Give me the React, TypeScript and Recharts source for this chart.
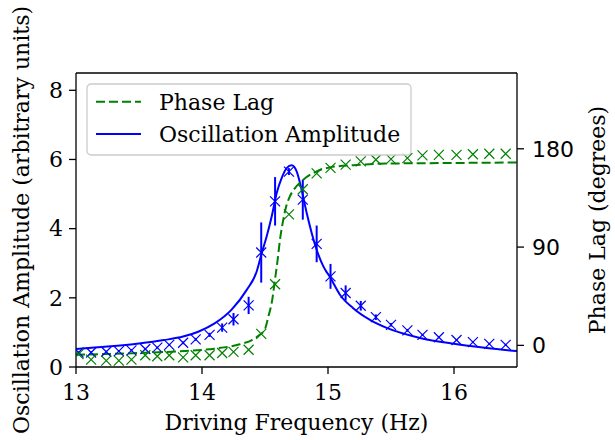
import { ComposedChart, Line, Scatter, ErrorBar, XAxis, YAxis, Legend } from 'recharts'

// measured points
const freq = [13.02, 13.12, 13.24, 13.34, 13.44, 13.55, 13.645, 13.74, 13.85, 13.95, 14.06, 14.16, 14.25, 14.37, 14.47, 14.58, 14.69, 14.8, 14.91, 15.02, 15.14, 15.26, 15.38, 15.5, 15.63, 15.75, 15.88, 16.02, 16.15, 16.28, 16.41]
const amplitude = [0.42, 0.42, 0.44, 0.46, 0.48, 0.52, 0.56, 0.64, 0.7, 0.8, 0.93, 1.14, 1.38, 1.78, 3.31, 4.79, 5.65, 4.84, 3.56, 2.62, 2.14, 1.77, 1.44, 1.22, 1.06, 0.93, 0.86, 0.78, 0.72, 0.67, 0.64]
const amplitudeErr = [0.03, 0.03, 0.03, 0.03, 0.03, 0.03, 0.03, 0.03, 0.04, 0.04, 0.06, 0.12, 0.18, 0.25, 0.87, 0.7, 0.1, 0.58, 0.53, 0.36, 0.22, 0.14, 0.08, 0.05, 0.04, 0.03, 0.03, 0.03, 0.03, 0.03, 0.03]
const phase = [-8, -13, -14, -14, -13, -9, -10, -9, -11, -9, -9, -7, -6, -4, 10.5, 56, 120, 143, 157.5, 162.5, 165.5, 168.5, 170, 170.5, 171.5, 174, 174.5, 174.5, 175, 175.5, 175.5]

// fitted curves
const ampFitFreq = [13.0, 13.25, 13.5, 13.7, 13.85, 13.97, 14.1, 14.235, 14.355, 14.434, 14.474, 14.513, 14.553, 14.593, 14.632, 14.672, 14.712, 14.752, 14.791, 14.831, 14.871, 14.91, 14.963, 15.016, 15.095, 15.2, 15.33, 15.466, 15.73, 16.0, 16.26, 16.5]
const ampFit = [0.52, 0.59, 0.68, 0.78, 0.88, 1.02, 1.26, 1.66, 2.23, 2.76, 3.29, 3.77, 4.35, 5.03, 5.46, 5.75, 5.83, 5.65, 5.12, 4.45, 3.87, 3.39, 2.91, 2.6, 2.09, 1.7, 1.37, 1.13, 0.84, 0.67, 0.55, 0.46]
const phaseFitFreq = [13.0, 13.5, 13.8, 14.1, 14.3, 14.4, 14.45, 14.5, 14.527, 14.555, 14.579, 14.6, 14.619, 14.645, 14.67, 14.7, 14.738, 14.804, 14.91, 15.016, 15.2, 15.5, 16.0, 16.5]
const phaseFit = [-8.5, -7, -5.5, -3, 1, 5, 9, 15, 26.6, 40, 60, 78, 96.8, 115, 128, 137, 144, 151.7, 159.3, 163, 165, 166.5, 167, 167.5]

const xTicks = [13, 14, 15, 16]
const ampTicks = [0, 2, 4, 6, 8]
const phaseTicks = [0, 90, 180]

const BLUE = '#0000ff'
const GREEN = '#008000'
const SERIF = 'DejaVu Serif'
const FS = 22

const ampPoints = freq.map((f, i) => ({ f, amp: amplitude[i], err: amplitudeErr[i] }))
const phasePoints = freq.map((f, i) => ({ f, phase: phase[i] }))
const ampLine = ampFitFreq.map((f, i) => ({ f, fit: ampFit[i] }))
const phaseLine = phaseFitFreq.map((f, i) => ({ f, fit: phaseFit[i] }))

const cross = (color: string) => (p: any) => {
    const r = 5
    return (
        <path
            d={`M${p.cx - r},${p.cy - r}L${p.cx + r},${p.cy + r}M${p.cx - r},${p.cy + r}L${p.cx + r},${p.cy - r}`}
            stroke={color}
            strokeWidth={1.2}
            fill="none"
        />
    )
}

// rotated axis title centred in the axis box, shifted sideways by dx
const sideTitle = (text: string, dx: number, dy = 0) => (props: any) => {
    const vb = props.viewBox
    const cx = vb.x + vb.width / 2 + dx
    const cy = vb.y + vb.height / 2 + dy
    return (
        <text x={cx} y={cy} transform={`rotate(-90 ${cx} ${cy})`} textAnchor="middle" dominantBaseline="central" fontFamily={SERIF} fontSize={FS} fill="#000">
            {text}
        </text>
    )
}

const LegendBox = () => (
    <svg width={326} height={73} style={{ display: 'block' }}>
        <rect x={1} y={1} width={324} height={71} rx={4} fill="#fff" fillOpacity={0.8} stroke="#cccccc" strokeWidth={1.3} />
        <line x1={10} x2={55} y1={18.7} y2={18.7} stroke={GREEN} strokeWidth={2} strokeDasharray="9 4" />
        <text x={73} y={18.7} dy="0.355em" fontFamily={SERIF} fontSize={FS} fill="#000">Phase Lag</text>
        <line x1={10} x2={55} y1={51} y2={51} stroke={BLUE} strokeWidth={2} />
        <text x={73} y={51} dy="0.355em" fontFamily={SERIF} fontSize={FS} fill="#000">Oscillation Amplitude</text>
    </svg>
)

const axisLine = { stroke: '#000', strokeWidth: 1.3 }
const serifTick = { fill: '#000', fontSize: FS, fontFamily: SERIF }
const labelStyle = { fontFamily: SERIF, fontSize: FS, fill: '#000' }

export default function App() {
    return (
        <div style={{ position: 'absolute', left: 0, top: 0, width: 615, height: 440, background: '#fff' }}>
            <ComposedChart width={615} height={440} margin={{ top: 72, right: 0, bottom: 0, left: 0 }}>
                <XAxis
                    dataKey="f"
                    type="number"
                    domain={[13, 16.5]}
                    ticks={xTicks}
                    height={73}
                    axisLine={axisLine}
                    tickLine={axisLine}
                    tickSize={7}
                    tickMargin={10}
                    tick={serifTick}
                    allowDataOverflow
                    label={{ value: 'Driving Frequency (Hz)', position: 'center', dy: 18.5, style: labelStyle }}
                />
                <XAxis xAxisId="top" orientation="top" dataKey="f" type="number" domain={[13, 16.5]} height={1} tick={false} tickLine={false} axisLine={axisLine} />
                <YAxis
                    yAxisId="left"
                    type="number"
                    domain={[0, 8.5]}
                    ticks={ampTicks}
                    width={76}
                    axisLine={axisLine}
                    tickLine={axisLine}
                    tickSize={7}
                    tickMargin={6}
                    tick={serifTick}
                    allowDataOverflow
                    label={{ content: sideTitle('Oscillation Amplitude (arbitrary units)', -17, 0) }}
                />
                <YAxis
                    yAxisId="right"
                    orientation="right"
                    type="number"
                    domain={[-19.8, 249.4]}
                    ticks={phaseTicks}
                    width={98}
                    axisLine={axisLine}
                    tickLine={axisLine}
                    tickSize={7}
                    tickMargin={8}
                    tick={{ fill: '#000', fontSize: FS, fontFamily: 'DejaVu Sans' }}
                    allowDataOverflow
                    label={{ content: sideTitle('Phase Lag (degrees)', 31, 0) }}
                />
                <Line data={ampLine} yAxisId="left" dataKey="fit" type="monotone" stroke={BLUE} strokeWidth={2} dot={false} isAnimationActive={false} />
                <Scatter data={ampPoints} yAxisId="left" dataKey="amp" shape={cross(BLUE)} isAnimationActive={false}>
                    <ErrorBar dataKey="err" direction="y" width={0} stroke={BLUE} strokeWidth={2} />
                </Scatter>
                <Line data={phaseLine} yAxisId="right" dataKey="fit" type="monotone" stroke={GREEN} strokeWidth={2} strokeDasharray="9 4" dot={false} isAnimationActive={false} />
                <Scatter data={phasePoints} yAxisId="right" dataKey="phase" shape={cross(GREEN)} isAnimationActive={false} />
                <Legend layout="vertical" align="center" verticalAlign="middle" content={LegendBox} wrapperStyle={{ left: 86, top: 83, width: 326, height: 73 }} />
            </ComposedChart>
        </div>
    )
}
